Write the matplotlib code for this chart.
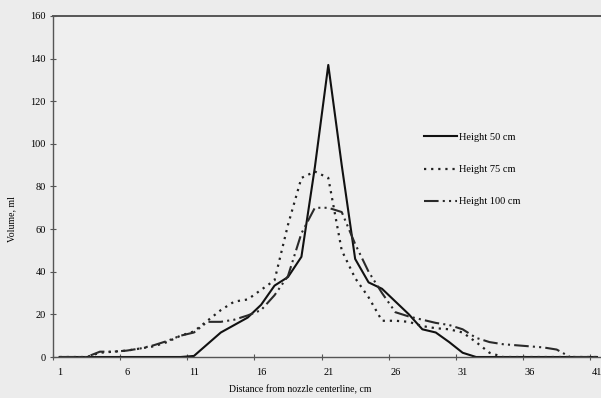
import numpy as np
import matplotlib
matplotlib.use("Agg")
import matplotlib.pyplot as plt

# distance from nozzle centerline, cm (category positions 1..41)
distance = list(range(1, 42))

height_50 = [0, 0, 0, 0, 0, 0, 0, 0, 0, 0, 0.5, 6, 11.5, 15, 18.5, 24.5, 33.5, 37.5, 47,
             89, 137, 90, 46, 35, 32, 26, 20, 13, 11.5, 7, 2, 0, 0, 0, 0, 0, 0, 0, 0, 0, 0]
height_75 = [0, 0, 0, 2, 2.5, 3, 4, 5, 7, 10, 12, 17, 22, 26, 27, 31.5, 36, 62, 84,
             87, 84, 50, 37, 28, 17, 17, 16.5, 14.5, 13.5, 13, 11.5, 7, 2, 0, 0, 0, 0, 0, 0, 0, 0]
height_100 = [0, 0, 0, 2.5, 2.5, 3, 4, 5.5, 7.5, 10, 11.5, 16.5, 16.5, 17.5, 19.5, 22, 29, 38, 58,
              70, 70, 68, 53, 40, 30, 21, 19, 17.5, 16, 15, 13, 9, 7, 6, 5.5, 5, 4.5, 3.5, 0, 0, 0]

series_labels = ["Height 50 cm", "Height 75 cm", "Height 100 cm"]
x_tick_labels = [1, 6, 11, 16, 21, 26, 31, 36, 41]
y_ticks = [0, 20, 40, 60, 80, 100, 120, 140, 160]

plt.rcParams["font.family"] = ["Liberation Serif", "DejaVu Serif"]

fig = plt.figure(figsize=(6.01, 3.98), dpi=100, facecolor="#ececec")
ax = fig.add_axes([0.088, 0.103, 0.912, 0.857])
ax.set_facecolor("#efefef")

ax.plot(distance, height_50, color="#111111", lw=1.5, ls="-", label=series_labels[0])
ax.plot(distance, height_75, color="#222222", lw=1.6, ls=(0, (1, 2.2)), label=series_labels[1])
ax.plot(distance, height_100, color="#2a2a2a", lw=1.5, ls=(0, (7, 2, 1, 2, 1, 2)),
        label=series_labels[2])

ax.set_xlim(0.5, 41.3)
ax.set_ylim(0, 160)
ax.set_yticks(y_ticks)
ax.set_xticks(x_tick_labels)
ax.set_xticks([0.5 + 5 * k for k in range(9)], minor=True)
ax.tick_params(axis="x", which="major", length=0, pad=8, labelsize=7.5)
ax.tick_params(axis="x", which="minor", direction="inout", length=4, width=0.8, color="#555555")
ax.tick_params(axis="y", direction="inout", length=4, width=0.8, color="#555555",
               labelsize=7.5, pad=3)

for side in ["left", "bottom", "top"]:
    ax.spines[side].set_color("#555555")
    ax.spines[side].set_linewidth(1.0)
ax.spines["top"].set_linewidth(1.4)
ax.spines["right"].set_visible(False)

ax.legend(loc="upper left", bbox_to_anchor=(0.66, 0.685), frameon=False, fontsize=7.5,
          handlelength=3.2, handletextpad=0.2, labelspacing=2.2)

fig.text(0.02, 0.45, "Volume, ml", rotation=90, ha="center", va="center", fontsize=7)
fig.text(0.5, 0.02, "Distance from nozzle centerline, cm", ha="center", va="center", fontsize=7)

fig.savefig("out.png", dpi=100, facecolor=fig.get_facecolor())
